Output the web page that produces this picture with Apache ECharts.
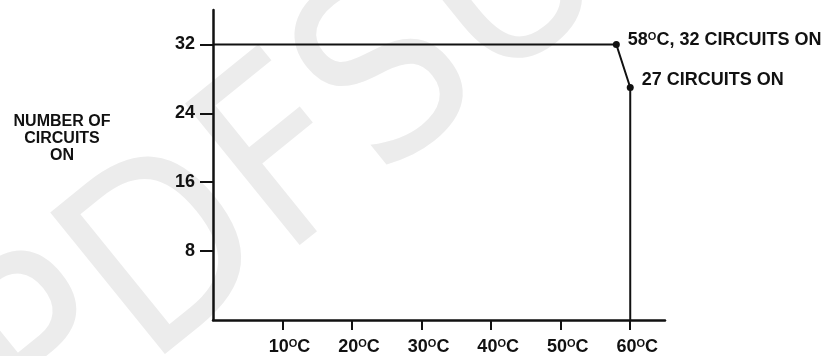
<!DOCTYPE html>
<html>
<head>
<meta charset="utf-8">
<script src="https://cdn.jsdelivr.net/npm/echarts@6/dist/echarts.min.js"></script>
<style>
  html, body { margin: 0; padding: 0; background: #fff; }
  #chart { width: 825px; height: 356px; }
</style>
</head>
<body>
<div id="chart"></div>
<script>
// temperature (deg C) vs number of circuits on
var temps = [0, 58, 60, 60];
var circuits = [32, 32, 27, 0];
var pointNotes = ['', '58{s|O}C, 32 CIRCUITS ON', '27 CIRCUITS ON', ''];
var xTicks = [10, 20, 30, 40, 50, 60];
var yTicks = [8, 16, 24, 32];

var noteShift = [0, -4, -7, 0];
var lineData = [];
for (var i = 0; i < temps.length; i++) {
    lineData.push({
        value: [temps[i], circuits[i]],
        note: pointNotes[i],
        label: { offset: [0, noteShift[i]] }
    });
}

var chart = echarts.init(document.getElementById('chart'));
var font = '"Liberation Sans", Arial, sans-serif';
var supStyle = { fontFamily: font, fontWeight: 'bold', fontSize: 11, color: '#111', verticalAlign: 'top', padding: [0, 0, 6, 0] };

var option = {
    backgroundColor: '#fff',
    animation: false,
    grid: { left: 213, right: 160, top: 10, bottom: 36 },
    graphic: [{
        // faint watermark behind the plot
        type: 'text',
        z: -10,
        x: 80,
        y: 500,
        rotation: 0.68,
        style: {
            text: 'PDFSUPPLY',
            font: '250px "Liberation Sans Narrow", "DejaVu Sans Condensed", "Liberation Sans"',
            fill: '#ececec',
            verticalAlign: 'bottom'
        }
    }, {
        type: 'text',
        x: 62,
        y: 113,
        style: {
            text: 'NUMBER OF\nCIRCUITS\nON',
            font: 'bold 16px ' + font,
            fill: '#111',
            align: 'center',
            lineHeight: 17
        }
    }],
    xAxis: {
        type: 'value',
        min: 0,
        max: 65,
        interval: 10,
        splitLine: { show: false },
        axisLine: { show: true, lineStyle: { color: '#111', width: 2.5 } },
        axisTick: { show: true, length: 10, customValues: xTicks, lineStyle: { color: '#111', width: 2 } },
        axisLabel: {
            customValues: xTicks,
            margin: 18,
            padding: [0, 0, 0, 14],
            formatter: function (v) { return '{n|' + v + '}{s|O}{n|C}'; },
            rich: {
                n: { fontFamily: font, fontWeight: 'bold', fontSize: 18, color: '#111' },
                s: supStyle
            }
        }
    },
    yAxis: {
        type: 'value',
        min: 0,
        max: 36,
        interval: 4,
        splitLine: { show: false },
        axisLine: { show: true, lineStyle: { color: '#111', width: 2.5 } },
        axisTick: { show: true, length: 13, customValues: yTicks, lineStyle: { color: '#111', width: 2 } },
        axisLabel: {
            customValues: yTicks,
            margin: 18,
            fontFamily: font,
            fontWeight: 'bold',
            fontSize: 18,
            color: '#111'
        }
    },
    series: [{
        type: 'line',
        data: lineData,
        lineStyle: { color: '#111', width: 2 },
        itemStyle: { color: '#111' },
        symbol: 'circle',
        symbolSize: function (v, p) { return p.data.note ? 7 : 0; },
        showSymbol: true,
        label: {
            show: true,
            position: 'right',
            distance: 8,
            fontFamily: font,
            fontWeight: 'bold',
            fontSize: 18,
            color: '#111',
            formatter: function (p) { return p.data.note; },
            rich: { s: supStyle }
        }
    }]
};
chart.setOption(option);
</script>
</body>
</html>
